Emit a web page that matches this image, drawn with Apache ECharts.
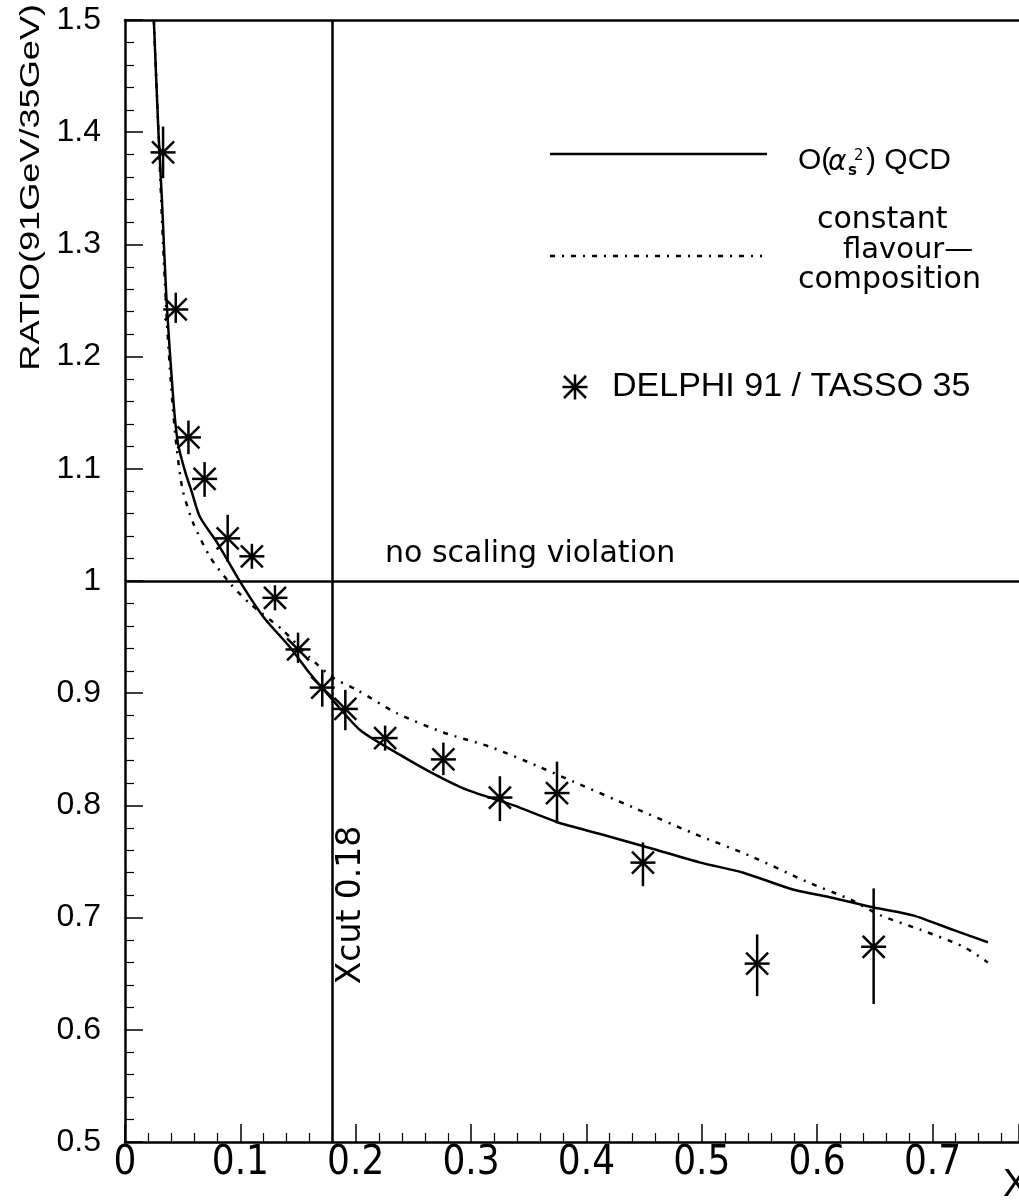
<!DOCTYPE html>
<html><head><meta charset="utf-8">
<script src="https://cdn.jsdelivr.net/npm/echarts@6/dist/echarts.min.js"></script>
<style>html,body{margin:0;padding:0;background:#fff}#c{width:1019px;height:1201px}</style>
</head><body><div id="c"></div>
<script>
// ---- tick labels ----
const xTicks = [0, 0.1, 0.2, 0.3, 0.4, 0.5, 0.6, 0.7];
const xTickLabels = ['0', '0.1', '0.2', '0.3', '0.4', '0.5', '0.6', '0.7'];
const yTicks = [0.5, 0.6, 0.7, 0.8, 0.9, 1.0, 1.1, 1.2, 1.3, 1.4, 1.5];
const yTickLabels = ['0.5', '0.6', '0.7', '0.8', '0.9', '1', '1.1', '1.2', '1.3', '1.4', '1.5'];

// ---- O(alpha_s^2) QCD curve ----
const qcdX = [0.025,0.029,0.032,0.036,0.042,0.046,0.052,0.058,0.065,0.080,0.100,0.120,0.143,0.160,0.180,0.204,0.2385,0.266,0.296,0.337,0.375,0.412,0.455,0.499,0.536,0.579,0.614,0.649,0.683,0.718,0.748];
const qcdY = [1.50,1.40,1.34,1.25,1.16,1.122,1.098,1.079,1.057,1.034,0.999,0.968,0.941,0.918,0.894,0.867,0.845,0.829,0.814,0.800,0.785,0.7745,0.762,0.749,0.740,0.725,0.7175,0.709,0.702,0.689,0.678];

// ---- constant flavour composition curve ----
const flavX = [0.025,0.029,0.033,0.037,0.041,0.045,0.050,0.059,0.074,0.091,0.108,0.137,0.160,0.180,0.201,0.236,0.276,0.317,0.360,0.389,0.441,0.493,0.542,0.591,0.629,0.655,0.690,0.727,0.748];
const flavY = [1.50,1.40,1.30,1.22,1.16,1.117,1.081,1.052,1.021,0.998,0.980,0.956,0.932,0.914,0.903,0.882,0.865,0.852,0.834,0.821,0.798,0.775,0.755,0.732,0.716,0.702,0.689,0.674,0.660];

// ---- DELPHI 91 / TASSO 35 data ----
const dataX  = [0.033,0.044,0.055,0.069,0.089,0.110,0.130,0.150,0.171,0.191,0.2255,0.276,0.325,0.3745,0.449,0.548,0.649];
const dataY  = [1.382,1.242,1.128,1.091,1.038,1.022,0.985,0.939,0.905,0.886,0.860,0.841,0.807,0.811,0.749,0.659,0.674];
const errLo  = [1.359,1.230,1.113,1.075,1.017,1.012,0.974,0.927,0.888,0.867,0.850,0.827,0.786,0.784,0.728,0.630,0.623];
const errHi  = [1.405,1.257,1.143,1.106,1.059,1.032,0.996,0.954,0.921,0.903,0.870,0.856,0.826,0.839,0.767,0.685,0.726];

const xCut = 0.18;
const noScaling = 1.0;
const xMax = 0.775;

function lookup(ticks, labels, v) {
  const i = ticks.findIndex(t => Math.abs(t - v) < 1e-9);
  return i >= 0 ? labels[i] : '';
}

const chart = echarts.init(document.getElementById('c'), null, {renderer: 'canvas'});
const ARM = 12.5, DIAG = 11;
function starLines(cx, cy, top, bot, lw) {
  const st = {stroke: '#000', lineWidth: lw};
  return [
    {type: 'line', shape: {x1: cx, y1: top, x2: cx, y2: bot}, style: st},
    {type: 'line', shape: {x1: cx - ARM, y1: cy, x2: cx + ARM, y2: cy}, style: st},
    {type: 'line', shape: {x1: cx - DIAG, y1: cy - DIAG, x2: cx + DIAG, y2: cy + DIAG}, style: st},
    {type: 'line', shape: {x1: cx - DIAG, y1: cy + DIAG, x2: cx + DIAG, y2: cy - DIAG}, style: st}
  ];
}

const option = {
  animation: false,
  backgroundColor: '#fff',
  grid: {left: 125, top: 20, bottom: 59, right: 0},
  xAxis: [{
    type: 'value', min: 0, max: xMax, interval: 0.1,
    axisLine: {show: true, lineStyle: {color: '#000', width: 2.5}},
    axisTick: {show: true, inside: true, length: 18, lineStyle: {color: '#000', width: 1.5}},
    minorTick: {show: true, splitNumber: 5, length: 9, lineStyle: {color: '#000', width: 1.2}},
    splitLine: {show: false},
    axisLabel: {
      margin: 2, color: '#000', fontSize: 40, showMaxLabel: false,
      fontFamily: "'Liberation Sans Narrow', 'DejaVu Sans Condensed', 'Liberation Sans', sans-serif",
      formatter: v => lookup(xTicks, xTickLabels, v)
    }
  }, {
    type: 'value', position: 'top', min: 0, max: xMax,
    axisLine: {show: true, lineStyle: {color: '#000', width: 2.5}},
    axisTick: {show: false}, axisLabel: {show: false}, splitLine: {show: false}
  }],
  yAxis: {
    type: 'value', min: 0.5, max: 1.5, interval: 0.1,
    axisLine: {show: true, lineStyle: {color: '#000', width: 2.5}},
    axisTick: {show: true, inside: true, length: 18, lineStyle: {color: '#000', width: 1.5}},
    minorTick: {show: true, splitNumber: 5, length: 9, lineStyle: {color: '#000', width: 1.2}},
    splitLine: {show: false},
    axisLabel: {
      margin: 24, color: '#000', fontSize: 32, fontFamily: "'Liberation Sans', sans-serif",
      formatter: v => lookup(yTicks, yTickLabels, v)
    }
  },
  series: [
    {
      name: 'O(αs²) QCD', type: 'line', symbol: 'none', showSymbol: false, smooth: 0.25,
      data: qcdX.map((x, i) => [x, qcdY[i]]),
      lineStyle: {color: '#000', width: 2.5},
      markLine: {
        silent: true, symbol: 'none', label: {show: false},
        lineStyle: {color: '#000', width: 2.5, type: 'solid'},
        data: [{xAxis: xCut}, {yAxis: noScaling}]
      }
    },
    {
      name: 'constant flavour-composition', type: 'line', symbol: 'none', showSymbol: false, smooth: 0.25,
      data: flavX.map((x, i) => [x, flavY[i]]),
      lineStyle: {color: '#000', width: 2.5, type: [5, 7, 2, 7]}
    },
    {
      name: 'DELPHI 91 / TASSO 35', type: 'custom', clip: false, z: 5,
      data: dataX.map((x, i) => [x, dataY[i], errLo[i], errHi[i]]),
      renderItem: function (params, api) {
        const p = api.coord([api.value(0), api.value(1)]);
        const lo = api.coord([api.value(0), api.value(2)]);
        const hi = api.coord([api.value(0), api.value(3)]);
        const top = Math.min(hi[1], p[1] - ARM);
        const bot = Math.max(lo[1], p[1] + ARM);
        return {type: 'group', children: starLines(p[0], p[1], top, bot, 2.5)};
      }
    }
  ],
  graphic: [
    // legend: QCD
    {type: 'line', shape: {x1: 550, y1: 154, x2: 767, y2: 154}, style: {stroke: '#000', lineWidth: 2.5}},
    {type: 'text', x: 798, y: 161, style: {text: 'O(', fontSize: 30, fontFamily: "'Liberation Sans Narrow', 'Liberation Sans', sans-serif", fill: '#000', verticalAlign: 'middle'}},
    {type: 'text', x: 828, y: 163, style: {text: 'α', fontSize: 28, fontStyle: 'italic', fontFamily: "'DejaVu Sans', sans-serif", fill: '#000', verticalAlign: 'middle'}},
    {type: 'text', x: 848, y: 171, style: {text: 's', fontSize: 15, fontWeight: 'bold', fontFamily: "'DejaVu Sans', sans-serif", fill: '#000', verticalAlign: 'middle'}},
    {type: 'text', x: 854, y: 156, style: {text: '2', fontSize: 15, fontFamily: "'DejaVu Sans', sans-serif", fill: '#000', verticalAlign: 'middle'}},
    {type: 'text', x: 866, y: 161, style: {text: ') QCD', fontSize: 30, fontFamily: "'Liberation Sans Narrow', 'Liberation Sans', sans-serif", fill: '#000', verticalAlign: 'middle'}},
    // legend: constant flavour composition
    {type: 'line', shape: {x1: 550, y1: 256, x2: 762, y2: 256}, style: {stroke: '#000', lineWidth: 2.5, lineDash: [5, 7, 2, 7]}},
    {type: 'text', x: 817, y: 220, style: {text: 'constant', fontSize: 30, fontFamily: "'DejaVu Sans', sans-serif", fill: '#000', verticalAlign: 'middle'}},
    {type: 'text', x: 843, y: 250, style: {text: 'flavour\u2014', fontSize: 29, fontFamily: "'DejaVu Sans', sans-serif", fill: '#000', verticalAlign: 'middle'}},
    {type: 'text', x: 798, y: 280, style: {text: 'composition', fontSize: 30, fontFamily: "'DejaVu Sans', sans-serif", fill: '#000', verticalAlign: 'middle'}},
    // legend: data
    {type: 'group', children: starLines(575, 387, 374.5, 399.5, 2.5)},
    {type: 'text', x: 612, y: 387, style: {text: 'DELPHI 91 / TASSO 35', fontSize: 34, fontFamily: "'Liberation Sans', sans-serif", fill: '#000', verticalAlign: 'middle'}},
    // annotations
    {type: 'text', x: 385, y: 554, style: {text: 'no scaling violation', fontSize: 30, fontFamily: "'DejaVu Sans', sans-serif", fill: '#000', verticalAlign: 'middle'}},
    {type: 'text', x: 351, y: 905, rotation: Math.PI / 2, style: {text: 'Xcut ' + xCut.toFixed(2), fontSize: 33, fontFamily: "'DejaVu Sans', sans-serif", fill: '#000', align: 'center', verticalAlign: 'middle'}},
    {type: 'text', x: 31, y: 4, rotation: Math.PI / 2, scaleX: 1.29, style: {text: 'RATIO(91GeV/35GeV)', fontSize: 28, fontFamily: "'Liberation Sans', sans-serif", fill: '#000', align: 'right', verticalAlign: 'middle'}},
    {type: 'text', x: 1003, y: 1186, style: {text: 'X', fontSize: 38, fontFamily: "'Liberation Sans Narrow', 'Liberation Sans', sans-serif", fill: '#000', verticalAlign: 'middle'}}
  ]
};
chart.setOption(option);
</script>
</body></html>
